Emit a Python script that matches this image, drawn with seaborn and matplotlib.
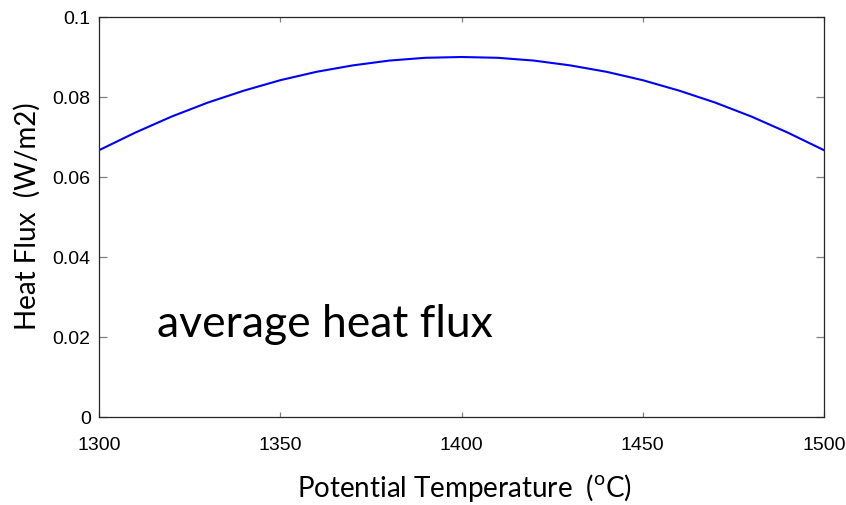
import matplotlib
matplotlib.use("Agg")
import matplotlib.pyplot as plt
import seaborn as sns
import pandas as pd

# Potential temperature (degC) and the average surface heat flux (W/m2)
temperature = [1300, 1310, 1320, 1330, 1340, 1350, 1360, 1370, 1380, 1390, 1400,
               1410, 1420, 1430, 1440, 1450, 1460, 1470, 1480, 1490, 1500]
heat_flux = [0.0667, 0.0711, 0.0751, 0.0786, 0.0816, 0.0842, 0.0863, 0.0879, 0.0891, 0.0898, 0.0900,
             0.0898, 0.0891, 0.0879, 0.0863, 0.0842, 0.0816, 0.0786, 0.0751, 0.0711, 0.0667]

x_ticks = [1300, 1350, 1400, 1450, 1500]
y_ticks = [0, 0.02, 0.04, 0.06, 0.08, 0.1]
y_tick_labels = ["0", "0.02", "0.04", "0.06", "0.08", "0.1"]

df = pd.DataFrame({"T": temperature, "q": heat_flux})

sns.set_theme(style="ticks")
plt.rcParams["font.family"] = ["Liberation Sans", "DejaVu Sans"]
plt.rcParams["mathtext.fontset"] = "custom"
plt.rcParams["mathtext.rm"] = "Lato"

fig = plt.figure(figsize=(8.46, 5.06), dpi=100)
ax = fig.add_axes([99 / 846, 88 / 506, 725 / 846, 400 / 506])

sns.lineplot(data=df, x="T", y="q", ax=ax, color="#0000ff", linewidth=1.5)

ax.set_xlim(1300, 1500)
ax.set_ylim(0, 0.1)
ax.set_xticks(x_ticks)
ax.set_xticklabels([str(t) for t in x_ticks])
ax.set_yticks(y_ticks)
ax.set_yticklabels(y_tick_labels)
ax.set_xlabel("")
ax.set_ylabel("")

for side in ["left", "right", "top", "bottom"]:
    ax.spines[side].set_visible(True)
    ax.spines[side].set_color("#262626")
    ax.spines[side].set_linewidth(0.9)

ax.tick_params(axis="both", direction="in", top=True, right=True,
               color="#808080", width=0.9, labelsize=14, labelcolor="black")
ax.tick_params(axis="y", length=5.5, pad=6)
ax.tick_params(axis="x", length=3.5, pad=14)

fig.text(465 / 846, 1 - 488 / 506, r"Potential Temperature  ($^{\mathrm{o}}$C)",
         family="Lato", fontsize=20, ha="center", va="center", color="black")
fig.text(27 / 846, 1 - 216 / 506, "Heat Flux  (W/m2)", family="Lato", fontsize=20,
         rotation=90, ha="center", va="center", color="black")
fig.text(157 / 846, 1 - 337 / 506, "average heat flux", family="Lato", fontsize=32,
         ha="left", va="baseline", color="black")

fig.savefig("out.png", dpi=100)
